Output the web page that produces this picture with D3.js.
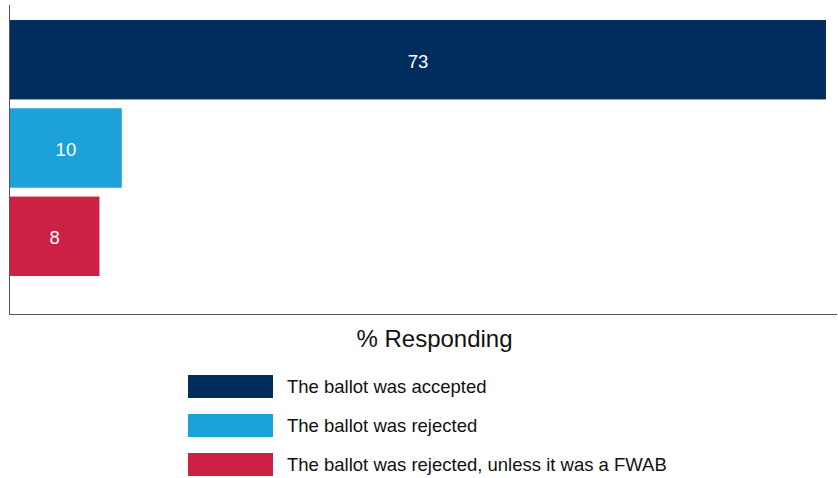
<!DOCTYPE html>
<html>
<head>
<meta charset="utf-8">
<script src="https://cdn.jsdelivr.net/npm/d3@7"></script>
<style>
  html, body { margin: 0; padding: 0; background: #fff; }
  svg { display: block; font-family: "Liberation Sans", Arial, sans-serif; }
</style>
</head>
<body>
<svg id="chart" width="838" height="478"></svg>
<script>
// Survey responses
const categories = [
  "The ballot was accepted",
  "The ballot was rejected",
  "The ballot was rejected, unless it was a FWAB"
];
const values = [73, 10, 8];
const colors = ["#002D5D", "#1CA1D8", "#CC2045"];
const axisTitle = "% Responding";

const svg = d3.select("#chart");
const plotBottom = 315;

const x = d3.scaleLinear().domain([0, 73]).range([10, 826]);
const y = d3.scaleBand().domain(categories).range([16, 280]).paddingInner(0.1).paddingOuter(0.045);

// bars
svg.append("g").selectAll("rect")
  .data(categories)
  .join("rect")
  .attr("x", x(0))
  .attr("y", d => y(d))
  .attr("width", (d, i) => x(values[i]) - x(0))
  .attr("height", y.bandwidth())
  .attr("fill", (d, i) => colors[i]);

// value labels
svg.append("g").selectAll("text")
  .data(categories)
  .join("text")
  .attr("x", (d, i) => (x(0) + x(values[i])) / 2)
  .attr("y", d => y(d) + y.bandwidth() / 2 + 1.5)
  .attr("dy", "0.35em")
  .attr("text-anchor", "middle")
  .attr("fill", "#fff")
  .attr("font-size", 18.5)
  .text((d, i) => values[i]);

// axis lines
svg.append("line")
  .attr("x1", 9.5).attr("x2", 9.5).attr("y1", 5).attr("y2", plotBottom)
  .attr("stroke", "#555").attr("stroke-width", 1);
svg.append("line")
  .attr("x1", 9).attr("x2", 837).attr("y1", plotBottom - 0.5).attr("y2", plotBottom - 0.5)
  .attr("stroke", "#555").attr("stroke-width", 1);

// axis title
svg.append("text")
  .attr("x", 434.5).attr("y", 347)
  .attr("text-anchor", "middle")
  .attr("font-size", 24)
  .attr("fill", "#111")
  .text(axisTitle);

// legend
const legend = svg.append("g").selectAll("g")
  .data(categories)
  .join("g")
  .attr("transform", (d, i) => `translate(188, ${375 + i * 39})`);
legend.append("rect")
  .attr("width", 85).attr("height", 23)
  .attr("fill", (d, i) => colors[i]);
legend.append("text")
  .attr("x", 99).attr("y", 12)
  .attr("dy", "0.35em")
  .attr("font-size", 18.5)
  .attr("fill", "#111")
  .text(d => d);
</script>
</body>
</html>
